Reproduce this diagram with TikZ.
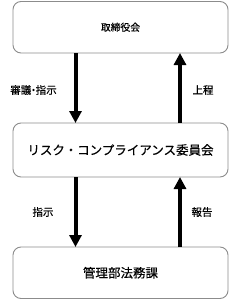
\documentclass[tikz,border=0pt]{standalone}
\usepackage{fontspec}
\setmainfont{Noto Sans CJK JP}[FakeBold=0.4]
\usetikzlibrary{arrows.meta}
\begin{document}
\begin{tikzpicture}[x=1pt,y=-1pt,
  box/.style={draw=black!45, line width=0.9pt, rounded corners=8pt, fill=white},
  flow/.style={line width=4pt, -{Triangle[length=12pt,width=12pt]}},
  lbl/.style={font=\fontsize{10.5}{12}\selectfont, inner sep=0pt}]
\useasboundingbox (0,0) rectangle (230,300);
\draw[box] (13,1.5) rectangle (228,53) node[midway, font=\fontsize{9.8}{11}\selectfont] (b1) {取締役会};
\draw[box] (13,123) rectangle (228,177) node[midway, font=\fontsize{12.5}{14}\selectfont] (b2) {リスク・コンプライアンス委員会};
\draw[box] (13,247) rectangle (228,298.5) node[midway, font=\fontsize{12.5}{14}\selectfont] (b3) {管理部法務課};
\coordinate (t1L) at (75.5,53); \coordinate (t1R) at (180,53);
\coordinate (t2L) at (75.5,123); \coordinate (t2R) at (180,123);
\coordinate (b2L) at (75.5,177); \coordinate (b2R) at (180,177);
\coordinate (t3L) at (75.5,247); \coordinate (t3R) at (180,247);
\draw[flow] (t1L) -- (t2L);
\draw[flow] (t2R) -- (t1R);
\draw[flow] (b2L) -- (t3L);
\draw[flow] (t3R) -- (b2R);
\node[lbl] (l1) at (33.5,90) {審議\hspace{-3pt}・\hspace{-3pt}指示};
\node[lbl] (l2) at (203,90) {上程};
\node[lbl] (l3) at (43,212) {指示};
\node[lbl] (l4) at (202,212) {報告};
\end{tikzpicture}
\end{document}
